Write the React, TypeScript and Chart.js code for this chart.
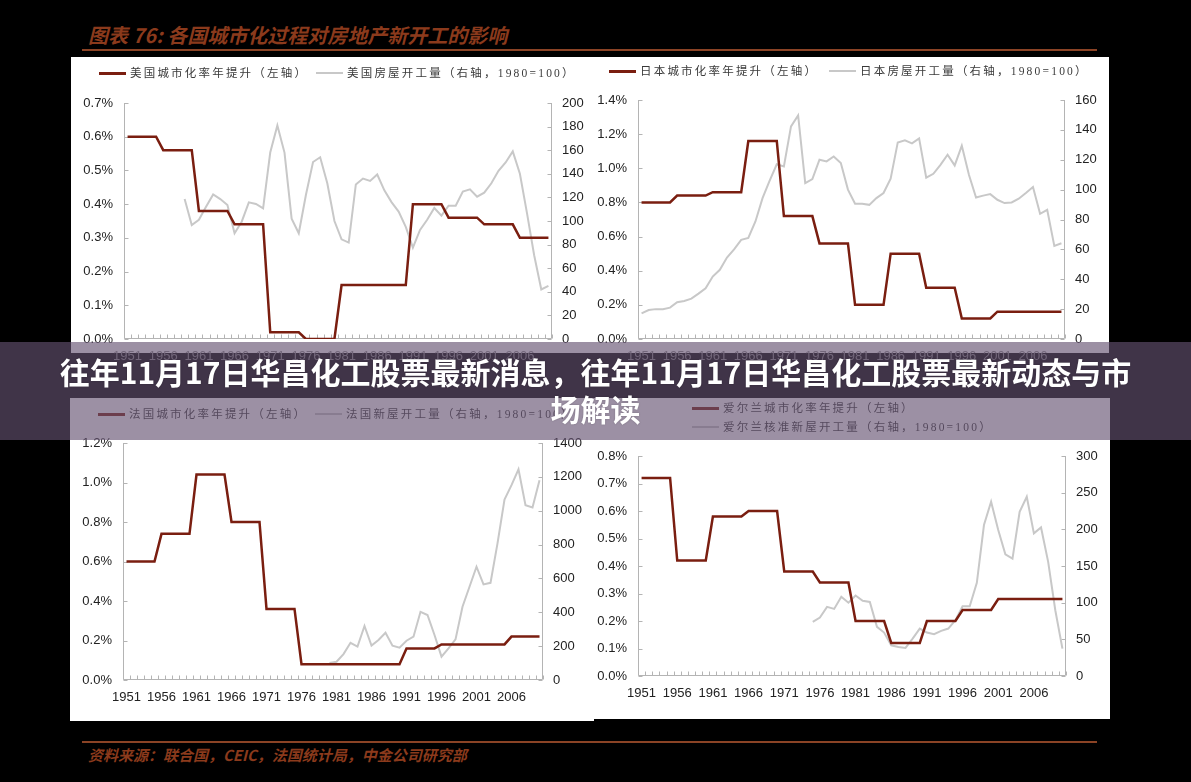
import React, { useEffect, useRef } from 'react';
import { Chart, registerables } from 'chart.js';

Chart.register(...registerables);

// ---------- data ----------
const years = [
  1951, 1952, 1953, 1954, 1955, 1956, 1957, 1958, 1959, 1960,
  1961, 1962, 1963, 1964, 1965, 1966, 1967, 1968, 1969, 1970,
  1971, 1972, 1973, 1974, 1975, 1976, 1977, 1978, 1979, 1980,
  1981, 1982, 1983, 1984, 1985, 1986, 1987, 1988, 1989, 1990,
  1991, 1992, 1993, 1994, 1995, 1996, 1997, 1998, 1999, 2000,
  2001, 2002, 2003, 2004, 2005, 2006, 2007, 2008, 2009, 2010,
];

// urbanisation rate annual rise (%), left axis
const usUrban = [
  0.60, 0.60, 0.60, 0.60, 0.60, 0.56, 0.56, 0.56, 0.56, 0.56,
  0.38, 0.38, 0.38, 0.38, 0.38, 0.34, 0.34, 0.34, 0.34, 0.34,
  0.02, 0.02, 0.02, 0.02, 0.02, 0.00, 0.00, 0.00, 0.00, 0.00,
  0.16, 0.16, 0.16, 0.16, 0.16, 0.16, 0.16, 0.16, 0.16, 0.16,
  0.40, 0.40, 0.40, 0.40, 0.40, 0.36, 0.36, 0.36, 0.36, 0.36,
  0.34, 0.34, 0.34, 0.34, 0.34, 0.30, 0.30, 0.30, 0.30, 0.30,
];
const usStarts = [
  null, null, null, null, null, null, null, null, 118.6, 96.6,
  101, 112, 122.5, 118.6, 113.5, 89.6, 99.4, 115.8, 114.4, 110.7,
  158, 181, 158, 102, 89.6, 122, 150, 154, 132, 100,
  84.5, 81.7, 131, 136, 134, 139.4, 126, 116, 108, 95,
  77.5, 92.4, 101, 111, 104.5, 113, 113, 125, 126.8, 120.6,
  124, 132, 142.5, 149.6, 159, 140, 106.5, 71, 42, 45,
];

const jpUrban = [
  0.80, 0.80, 0.80, 0.80, 0.80, 0.84, 0.84, 0.84, 0.84, 0.84,
  0.86, 0.86, 0.86, 0.86, 0.86, 1.16, 1.16, 1.16, 1.16, 1.16,
  0.72, 0.72, 0.72, 0.72, 0.72, 0.56, 0.56, 0.56, 0.56, 0.56,
  0.20, 0.20, 0.20, 0.20, 0.20, 0.50, 0.50, 0.50, 0.50, 0.50,
  0.30, 0.30, 0.30, 0.30, 0.30, 0.12, 0.12, 0.12, 0.12, 0.12,
  0.16, 0.16, 0.16, 0.16, 0.16, 0.16, 0.16, 0.16, 0.16, 0.16,
];
const jpStarts = [
  17.2, 19.4, 20, 20, 21, 24.6, 25.5, 27, 30.4, 34,
  41.8, 46.3, 54.5, 60, 66.4, 67.7, 78.7, 94.3, 106, 117,
  115.5, 142.3, 149.7, 104.4, 107, 120, 118.9, 122.2, 117.8, 100,
  90.5, 90.5, 89.8, 94.3, 97.7, 107.3, 131.6, 133, 131, 134.3,
  108, 110.6, 116.6, 123.4, 116.2, 129.4, 110, 94.7, 96, 97,
  93.2, 91, 91.4, 93.9, 97.7, 101.7, 83.8, 86.5, 62.3, 64.1,
];

const frUrban = [
  0.60, 0.60, 0.60, 0.60, 0.60, 0.74, 0.74, 0.74, 0.74, 0.74,
  1.04, 1.04, 1.04, 1.04, 1.04, 0.80, 0.80, 0.80, 0.80, 0.80,
  0.36, 0.36, 0.36, 0.36, 0.36, 0.08, 0.08, 0.08, 0.08, 0.08,
  0.08, 0.08, 0.08, 0.08, 0.08, 0.08, 0.08, 0.08, 0.08, 0.08,
  0.16, 0.16, 0.16, 0.16, 0.16, 0.18, 0.18, 0.18, 0.18, 0.18,
  0.18, 0.18, 0.18, 0.18, 0.18, 0.22, 0.22, 0.22, 0.22, 0.22,
];
const frStarts = [
  null, null, null, null, null, null, null, null, null, null,
  null, null, null, null, null, null, null, null, null, null,
  null, null, null, null, null, null, null, null, null, 100,
  108, 153, 220, 197, 319, 203, 236, 279, 203, 191,
  232, 256, 403, 384, 266, 138, 187, 240, 433, 551,
  669, 565, 574, 807, 1066, 1151, 1245, 1033, 1019, 1180,
];

const ieUrban = [
  0.72, 0.72, 0.72, 0.72, 0.72, 0.42, 0.42, 0.42, 0.42, 0.42,
  0.58, 0.58, 0.58, 0.58, 0.58, 0.60, 0.60, 0.60, 0.60, 0.60,
  0.38, 0.38, 0.38, 0.38, 0.38, 0.34, 0.34, 0.34, 0.34, 0.34,
  0.20, 0.20, 0.20, 0.20, 0.20, 0.12, 0.12, 0.12, 0.12, 0.12,
  0.20, 0.20, 0.20, 0.20, 0.20, 0.24, 0.24, 0.24, 0.24, 0.24,
  0.28, 0.28, 0.28, 0.28, 0.28, 0.28, 0.28, 0.28, 0.28, 0.28,
];
const ieStarts = [
  null, null, null, null, null, null, null, null, null, null,
  null, null, null, null, null, null, null, null, null, null,
  null, null, null, null, 73.8, 79.7, 94.3, 91.5, 108, 100,
  109.8, 102.5, 101, 67, 59.2, 41.9, 39.6, 38.3, 51, 64.7,
  59.2, 56.9, 61.5, 64.7, 76, 95.2, 95.2, 127, 205.8, 237.7,
  199, 166, 160, 224, 244.5, 194.5, 202.6, 155.7, 89.7, 37.3,
];

// ---------- styles ----------
const RED = '#7a1e10';
const GRAY = '#c8c8c8';
const AXIS = '#b4b4b4';
const TICK_FONT = '"Liberation Sans", Arial, sans-serif';
const LEGEND_FONT = '"Liberation Serif", "Noto Sans CJK SC", serif';
const CJK = '"Noto Sans CJK SC", sans-serif';

const axesPlugin = {
  id: 'axesInward',
  beforeDatasetsDraw(chart: any) {
    const { ctx, chartArea: a, scales } = chart;
    const L = Math.round(a.left) + 0.5;
    const R = Math.round(a.right) - 0.5;
    const B = Math.round(a.bottom) - 0.5;
    const T = Math.round(a.top);
    ctx.save();
    ctx.strokeStyle = AXIS;
    ctx.lineWidth = 1;
    ctx.beginPath();
    ctx.moveTo(L, T); ctx.lineTo(L, B);
    ctx.moveTo(R, T); ctx.lineTo(R, B);
    ctx.moveTo(L, B); ctx.lineTo(R, B);
    scales.y.ticks.forEach((t: any) => {
      const y = Math.round(scales.y.getPixelForValue(t.value)) + 0.5;
      ctx.moveTo(L, y); ctx.lineTo(L + 4, y);
    });
    scales.y1.ticks.forEach((t: any) => {
      const y = Math.round(scales.y1.getPixelForValue(t.value)) + 0.5;
      ctx.moveTo(R - 4, y); ctx.lineTo(R, y);
    });
    const n = chart.data.labels.length;
    for (let i = 0; i <= n; i++) {
      const x = Math.round(a.left + (i * (a.right - a.left)) / n) + 0.5;
      ctx.moveTo(x, B); ctx.lineTo(x, B - 4);
    }
    ctx.stroke();
    ctx.restore();
  },
};

type Spec = {
  red: (number | null)[];
  gray: (number | null)[];
  lmax: number; lstep: number;
  rmax: number; rstep: number;
  leftW: number; rightW: number; top: number; xH: number;
  xColor: string;
};

function buildConfig(s: Spec): any {
  return {
    type: 'line',
    data: {
      labels: years.map(String),
      datasets: [
        { data: s.red, borderColor: RED, borderWidth: 2.5, pointRadius: 0, tension: 0, yAxisID: 'y', fill: false },
        { data: s.gray, borderColor: GRAY, borderWidth: 2, pointRadius: 0, tension: 0, yAxisID: 'y1', fill: false, spanGaps: false },
      ],
    },
    options: {
      responsive: false,
      animation: false,
      events: [],
      layout: { padding: { top: s.top, left: 0, right: 0, bottom: 0 } },
      plugins: { legend: { display: false }, tooltip: { enabled: false }, title: { display: false } },
      scales: {
        x: {
          type: 'category',
          offset: true,
          grid: { display: false, drawTicks: false },
          border: { display: false },
          ticks: {
            autoSkip: false, maxRotation: 0, minRotation: 0, padding: 10,
            color: s.xColor, font: { family: TICK_FONT, size: 13 },
            callback: (_v: any, i: number) => (i % 5 === 0 ? String(years[i]) : ''),
          },
          afterFit: (sc: any) => { sc.height = s.xH; },
        },
        y: {
          position: 'left', min: 0, max: s.lmax,
          grid: { display: false, drawTicks: false },
          border: { display: false },
          ticks: {
            stepSize: s.lstep, padding: 11, color: '#222', font: { family: TICK_FONT, size: 13 },
            callback: (v: any) => Number(v).toFixed(1) + '%',
          },
          afterFit: (sc: any) => { sc.width = s.leftW; },
        },
        y1: {
          position: 'right', min: 0, max: s.rmax,
          grid: { display: false, drawTicks: false },
          border: { display: false },
          ticks: {
            stepSize: s.rstep, padding: 10, color: '#222', font: { family: TICK_FONT, size: 13 },
            callback: (v: any) => String(Math.round(Number(v))),
          },
          afterFit: (sc: any) => { sc.width = s.rightW; },
        },
      },
    },
    plugins: [axesPlugin],
  };
}

type LegendDef = { x: number; y: number; color: string; thick: number; text: string };

function LegendItem({ x, y, color, thick, text }: LegendDef) {
  return (
    <div style={{ position: 'absolute', left: x, top: y - 8, height: 16, display: 'flex', alignItems: 'center', whiteSpace: 'nowrap' }}>
      <span style={{ display: 'inline-block', width: 27, height: thick, background: color, marginRight: 4 }} />
      <span style={{ fontFamily: LEGEND_FONT, fontSize: 11.5, letterSpacing: '2.2px', color: '#3a3a3a', lineHeight: '16px' }}>{text}</span>
    </div>
  );
}

function Panel(props: { left: number; top: number; width: number; whiteH: number; canvasH: number; spec: Spec; legends: LegendDef[] }) {
  const ref = useRef<HTMLCanvasElement | null>(null);
  useEffect(() => {
    if (!ref.current) return;
    const chart = new Chart(ref.current, buildConfig(props.spec));
    return () => chart.destroy();
  }, []);
  return (
    <div style={{ position: 'absolute', left: props.left, top: props.top, width: props.width, height: props.canvasH }}>
      <div style={{ position: 'absolute', left: 0, top: 0, width: props.width, height: props.whiteH, background: '#fff' }} />
      <canvas ref={ref} width={props.width} height={props.canvasH}
        style={{ position: 'absolute', left: 0, top: 0, width: props.width, height: props.canvasH }} />
      {props.legends.map((l, i) => <LegendItem key={i} {...l} />)}
    </div>
  );
}

export default function App() {
  return (
    <div style={{ position: 'fixed', left: 0, top: 0, width: 1191, height: 782, background: '#000', overflow: 'hidden' }}>
      <div style={{ position: 'absolute', left: 88, top: 22, fontFamily: CJK, fontStyle: 'italic', fontWeight: 'bold', fontSize: 20, lineHeight: '26px', color: '#8b3a1c', whiteSpace: 'nowrap' }}>
        图表 76: 各国城市化过程对房地产新开工的影响
      </div>
      <div style={{ position: 'absolute', left: 82, top: 49, width: 1015, height: 2, background: '#8b4325' }} />

      <Panel left={71} top={57} width={514} whiteH={296} canvasH={313}
        spec={{ red: usUrban, gray: usStarts, lmax: 0.7, lstep: 0.1, rmax: 200, rstep: 20, leftW: 53, rightW: 33, top: 46, xH: 31, xColor: '#8a8a8a' }}
        legends={[
          { x: 28, y: 16, color: RED, thick: 3, text: '美国城市化率年提升（左轴）' },
          { x: 245, y: 16, color: GRAY, thick: 2, text: '美国房屋开工量（右轴，1980=100）' },
        ]} />
      <Panel left={585} top={57} width={524} whiteH={296} canvasH={313}
        spec={{ red: jpUrban, gray: jpStarts, lmax: 1.4, lstep: 0.2, rmax: 160, rstep: 20, leftW: 53, rightW: 44, top: 43, xH: 31, xColor: '#8a8a8a' }}
        legends={[
          { x: 24, y: 14, color: RED, thick: 3, text: '日本城市化率年提升（左轴）' },
          { x: 244, y: 14, color: GRAY, thick: 2, text: '日本房屋开工量（右轴，1980=100）' },
        ]} />
      <Panel left={70} top={398} width={524} whiteH={323} canvasH={323}
        spec={{ red: frUrban, gray: frStarts, lmax: 1.2, lstep: 0.2, rmax: 1400, rstep: 200, leftW: 53, rightW: 51, top: 45, xH: 41, xColor: '#222' }}
        legends={[
          { x: 28, y: 16, color: RED, thick: 3, text: '法国城市化率年提升（左轴）' },
          { x: 245, y: 16, color: GRAY, thick: 2, text: '法国新屋开工量（右轴，1980=100）' },
        ]} />
      <Panel left={594} top={398} width={516} whiteH={321} canvasH={321}
        spec={{ red: ieUrban, gray: ieStarts, lmax: 0.8, lstep: 0.1, rmax: 300, rstep: 50, leftW: 44, rightW: 44, top: 58, xH: 43, xColor: '#222' }}
        legends={[
          { x: 98, y: 10, color: RED, thick: 3, text: '爱尔兰城市化率年提升（左轴）' },
          { x: 98, y: 29, color: GRAY, thick: 2, text: '爱尔兰核准新屋开工量（右轴，1980=100）' },
        ]} />

      <div style={{ position: 'absolute', left: 82, top: 741, width: 1015, height: 2, background: '#8b4325' }} />
      <div style={{ position: 'absolute', left: 88, top: 745, fontFamily: CJK, fontStyle: 'italic', fontWeight: 'bold', fontSize: 15, lineHeight: '20px', color: '#8b3a1c', whiteSpace: 'nowrap' }}>
        资料来源：联合国，CEIC，法国统计局，中金公司研究部
      </div>

      <div style={{ position: 'absolute', left: 0, top: 342, width: 1191, height: 98, background: 'rgba(100,81,112,0.64)' }}>
        <div style={{ paddingTop: 11, textAlign: 'center', color: '#fff', fontFamily: CJK, fontWeight: 'bold', fontSize: 30, lineHeight: '37px', whiteSpace: 'nowrap', textShadow: '0 0 2px rgba(0,0,0,0.25)' }}>
          往年11月17日华昌化工股票最新消息，往年11月17日华昌化工股票最新动态与市
          <br />
          场解读
        </div>
      </div>
    </div>
  );
}
